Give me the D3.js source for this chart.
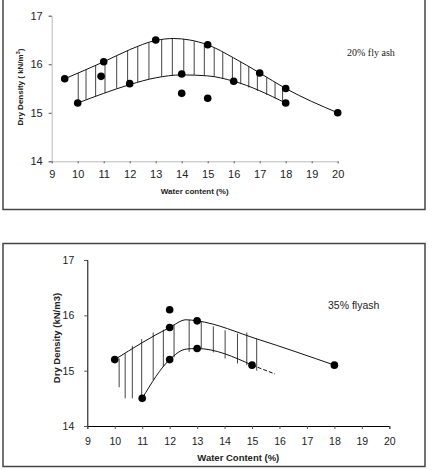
<!DOCTYPE html>
<html>
<head>
<meta charset="utf-8">
<script src="https://cdn.jsdelivr.net/npm/d3@7"></script>
<style>
  body { margin: 0; background: #fff; }
  svg { display: block; }
</style>
</head>
<body>
<svg id="chart" width="432" height="470"></svg>
<script>
// ---- 20% fly ash panel ----
const xTicks = [9, 10, 11, 12, 13, 14, 15, 16, 17, 18, 19, 20];
const yTicks = [14, 15, 16, 17];

const pts20 = [[9.5, 15.7], [10, 15.2], [10.9, 15.75], [11, 16.05], [12, 15.6], [13, 16.5],
  [14, 15.8], [14, 15.4], [15, 16.4], [15, 15.3], [16, 15.65], [17, 15.82], [18, 15.5], [18, 15.2], [20, 15.0]];
const upper20 = [[9.5, 15.7], [11, 16.05], [12, 16.3], [13, 16.49], [13.7, 16.53], [14.3, 16.5], [15, 16.4],
  [16, 16.13], [17, 15.82], [18, 15.5], [20, 15.0]];
const lower20 = [[10, 15.2], [11, 15.4], [12, 15.58], [13, 15.72], [14, 15.78], [15, 15.76], [16, 15.65], [18, 15.2]];
// hatch: [x, top, bottom]
const hatch20 = [[10.02, 15.82, 15.2], [10.32, 15.89, 15.27], [10.69, 15.98, 15.34], [11.05, 16.06, 15.41],
  [11.5, 16.18, 15.5], [11.92, 16.28, 15.57], [12.31, 16.36, 15.63], [12.74, 16.45, 15.69],
  [13.23, 16.51, 15.74], [13.64, 16.53, 15.77], [14.08, 16.52, 15.78], [14.48, 16.47, 15.78],
  [14.87, 16.41, 15.77], [15.25, 16.34, 15.74], [15.58, 16.25, 15.7], [15.95, 16.14, 15.66],
  [16.27, 16.05, 15.59], [16.58, 15.95, 15.52], [16.91, 15.84, 15.45], [17.27, 15.73, 15.37],
  [17.59, 15.63, 15.3], [17.88, 15.54, 15.23]];

// ---- 35% flyash panel ----
const pts35 = [[10, 15.2], [11, 14.5], [12, 16.1], [12, 15.78], [12, 15.2], [13, 15.9], [13, 15.4], [15, 15.1], [18, 15.1]];
const upper35 = [[10, 15.2], [12, 15.78], [12.6, 15.92], [13, 15.9], [15.2, 15.57], [18, 15.1]];
const lower35 = [[11, 14.5], [12, 15.2], [12.6, 15.39], [13, 15.4], [15, 15.1]];
const lower35Dash = [[15, 15.1], [15.84, 14.94]];
const hatch35 = [[10.16, 15.22, 14.7], [10.38, 15.31, 14.5], [10.64, 15.45, 14.5], [10.98, 15.57, 14.5],
  [11.4, 15.69, 14.83], [11.77, 15.74, 15.07], [12.16, 15.84, 15.24], [12.71, 15.92, 15.34],
  [13.15, 15.88, 15.4], [13.59, 15.8, 15.33], [14.02, 15.73, 15.22], [14.47, 15.67, 15.13],
  [14.81, 15.69, 15.1], [15.17, 15.58, 15.0]];

const svg = d3.select("#chart");

function panel(cfg) {
  const x = d3.scaleLinear().domain([9, 20]).range(cfg.xr);
  const y = d3.scaleLinear().domain([14, 17]).range(cfg.yr);
  const g = svg.append("g");

  g.append("rect")
    .attr("x", cfg.frame[0]).attr("y", cfg.frame[1])
    .attr("width", cfg.frame[2]).attr("height", cfg.frame[3])
    .attr("fill", "none").attr("stroke", "#444").attr("stroke-width", 1.5);

  const ya = g.append("g")
    .attr("transform", `translate(${cfg.xr[0]},0)`)
    .call(d3.axisLeft(y).tickValues(yTicks).tickFormat(d3.format("d")).tickSize(3).tickPadding(cfg.yPad));
  const xa = g.append("g")
    .attr("transform", `translate(0,${cfg.yr[0]})`)
    .call(d3.axisBottom(x).tickValues(xTicks).tickFormat(d3.format("d")).tickSize(cfg.xTickSize).tickPadding(cfg.xPad));
  [ya, xa].forEach(a => {
    a.select(".domain").attr("stroke", cfg.axisColor);
    a.selectAll(".tick line").attr("stroke", "#555");
    a.selectAll("text").attr("fill", "#222").style("font-family", "Liberation Sans, Arial, sans-serif")
      .style("font-size", cfg.tickFont + "px");
  });

  g.selectAll(".hatch")
    .data(cfg.hatch)
    .enter().append("line")
    .attr("x1", d => x(d[0])).attr("x2", d => x(d[0]))
    .attr("y1", d => y(d[1])).attr("y2", d => y(d[2]))
    .attr("stroke", "#444").attr("stroke-width", 1);

  const line = d3.line().x(d => x(d[0])).y(d => y(d[1])).curve(d3.curveMonotoneX);
  [cfg.upper, cfg.lower].forEach(s => {
    g.append("path").attr("d", line(s)).attr("fill", "none").attr("stroke", "#111").attr("stroke-width", 1);
  });
  if (cfg.dash) {
    g.append("path").attr("d", d3.line().x(d => x(d[0])).y(d => y(d[1]))(cfg.dash))
      .attr("fill", "none").attr("stroke", "#111").attr("stroke-width", 1).attr("stroke-dasharray", "4,2");
  }

  g.selectAll(".pt")
    .data(cfg.pts)
    .enter().append("circle")
    .attr("cx", d => x(d[0])).attr("cy", d => y(d[1]))
    .attr("r", 3.8).attr("fill", "#000");

  g.append("text")
    .attr("x", (cfg.xr[0] + cfg.xr[1]) / 2).attr("y", cfg.xTitleY)
    .attr("text-anchor", "middle")
    .style("font-family", "Liberation Sans, Arial, sans-serif")
    .style("font-weight", "bold").style("font-size", cfg.titleFont + "px")
    .attr("fill", "#222")
    .text(cfg.xTitle);

  const yt = g.append("text")
    .attr("transform", `translate(${cfg.yTitleX},${cfg.yTitleY}) rotate(-90)`)
    .attr("text-anchor", "middle")
    .style("font-family", "Liberation Sans, Arial, sans-serif")
    .style("font-weight", "bold").style("font-size", cfg.titleFont + "px")
    .attr("fill", "#222");
  cfg.yTitle(yt);

  g.append("text")
    .attr("x", cfg.label[0]).attr("y", cfg.label[1])
    .style("font-family", cfg.labelFamily)
    .style("font-size", cfg.labelFont + "px")
    .attr("fill", "#222")
    .text(cfg.labelText);
}

panel({
  xr: [51.7, 337.7], yr: [161.3, 15.7], frame: [3, -2, 422, 211.5],
  axisColor: "#bbb", yPad: 6, xPad: 7, xTickSize: 2, tickFont: 11,
  hatch: hatch20, upper: upper20, lower: lower20, pts: pts20,
  xTitle: "Water content (%)", xTitleY: 194, titleFont: 8,
  yTitleX: 23, yTitleY: 87,
  yTitle: t => {
    t.append("tspan").text("Dry Density ( kN/m");
    t.append("tspan").attr("dy", -3).style("font-size", "5.5px").text("3");
    t.append("tspan").attr("dy", 3).text(")");
  },
  label: [347, 56], labelFamily: "Liberation Serif, Times New Roman, serif", labelFont: 10, labelText: "20% fly ash"
});

panel({
  xr: [87.3, 389.3], yr: [426, 260], frame: [3, 243.5, 422, 223],
  axisColor: "#000", yPad: 10, xPad: 9, xTickSize: 3, tickFont: 10.5,
  hatch: hatch35, upper: upper35, lower: lower35, dash: lower35Dash, pts: pts35,
  xTitle: "Water Content (%)", xTitleY: 461, titleFont: 9.5,
  yTitleX: 60, yTitleY: 338,
  yTitle: t => t.text("Dry Density (kN/m3)"),
  label: [328, 308.5], labelFamily: "Liberation Sans, Arial, sans-serif", labelFont: 10.5, labelText: "35% flyash"
});
</script>
</body>
</html>
